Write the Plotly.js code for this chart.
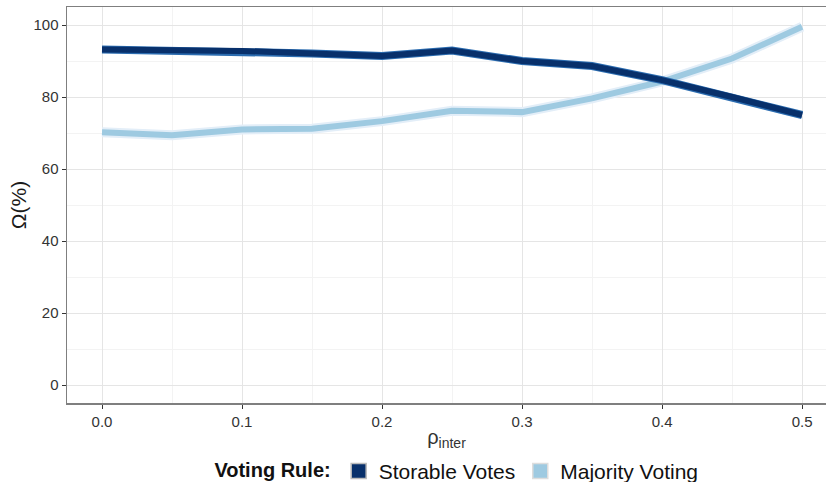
<!DOCTYPE html>
<html><head><meta charset="utf-8">
<script src="https://cdn.plot.ly/plotly-3.0.1.min.js"></script>
<style>body{margin:0;padding:0;background:#fff}#chart{width:826px;height:482px}</style>
</head><body><div id="chart"></div>
<script>
const rho = [0, 0.05, 0.1, 0.15, 0.2, 0.25, 0.3, 0.35, 0.4, 0.45, 0.5];
const storable = [93.2, 93.0, 92.8, 92.1, 91.4, 92.9, 90.0, 88.6, 84.7, 80.0, 75.0];
const majority = [70.2, 69.4, 71.0, 71.2, 73.3, 76.2, 75.8, 79.6, 84.3, 90.7, 99.5];
const seriesNames = ['Storable Votes', 'Majority Voting'];
const xTicks = [0, 0.1, 0.2, 0.3, 0.4, 0.5];
const xTickText = ['0.0', '0.1', '0.2', '0.3', '0.4', '0.5'];
const yTicks = [0, 20, 40, 60, 80, 100];

const darkCol = '#08306b', darkEdge = '#2b6cb0';
const lightCol = '#9ecae1', lightEdge = '#e3eef8';

const traces = [
  {x: rho, y: majority, mode: 'lines', line: {color: lightEdge, width: 10}, showlegend: false, hoverinfo: 'skip'},
  {x: rho, y: majority, mode: 'lines', line: {color: lightCol, width: 6}, showlegend: false},
  {x: rho, y: storable, mode: 'lines', line: {color: darkEdge, width: 8}, showlegend: false, hoverinfo: 'skip'},
  {x: rho, y: storable, mode: 'lines', line: {color: darkCol, width: 6}, showlegend: false},
  {x: [null], y: [null], mode: 'markers', name: seriesNames[0], marker: {symbol: 'square', size: 15, color: darkCol, line: {color: '#bbbbbb', width: 1.5}}},
  {x: [null], y: [null], mode: 'markers', name: seriesNames[1], marker: {symbol: 'square', size: 15, color: lightCol, line: {color: '#dddddd', width: 1.5}}}
];

const layout = {
  width: 826, height: 482,
  margin: {l: 67, r: 0, t: 7, b: 79, autoexpand: false},
  paper_bgcolor: '#fff', plot_bgcolor: '#fff',
  font: {family: 'Liberation Sans, Arial, sans-serif', color: '#1a1a1a'},
  xaxis: {
    range: [-0.025, 0.5171], tickvals: xTicks, ticktext: xTickText,
    showgrid: true, gridcolor: '#e5e5e5', gridwidth: 1,
    minor: {dtick: 0.05, tick0: 0, showgrid: true, gridcolor: '#f3f3f3', gridwidth: 1},
    zeroline: false, showline: true, linecolor: '#7f7f7f', linewidth: 1.5, mirror: true,
    ticks: 'outside', ticklen: 4, tickcolor: '#333', tickwidth: 1,
    tickfont: {size: 15, color: '#333'},
    title: {text: 'ρ<sub>inter</sub>', font: {size: 20, color: '#333'}, standoff: 2}
  },
  yaxis: {
    range: [-5, 105], tickvals: yTicks,
    showgrid: true, gridcolor: '#e5e5e5', gridwidth: 1,
    minor: {dtick: 10, tick0: 0, showgrid: true, gridcolor: '#f3f3f3', gridwidth: 1},
    zeroline: false, showline: true, linecolor: '#7f7f7f', linewidth: 1.5,
    ticks: 'outside', ticklen: 4, tickcolor: '#333', tickwidth: 1,
    tickfont: {size: 15, color: '#333'},
    title: {text: 'Ω(%)', font: {size: 21, color: '#1a1a1a'}, standoff: 1}
  },
  legend: {
    orientation: 'h', x: 0.515, xanchor: 'center', yref: 'container', y: 0.022, yanchor: 'middle',
    font: {size: 21, color: '#111'},
    title: {text: '<b>Voting Rule:</b>', font: {size: 20, color: '#111'}, side: 'left'},
    itemwidth: 30, tracegroupgap: 0, traceorder: 'normal'
  },
  showlegend: true
};

Plotly.newPlot('chart', traces, layout, {displayModeBar: false, staticPlot: true});
</script></body></html>
